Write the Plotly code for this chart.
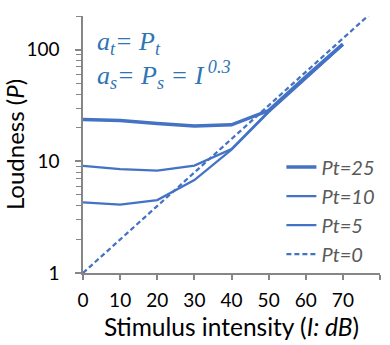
import plotly.graph_objects as go

# Stimulus intensity in dB
intensity = [0, 10, 20, 30, 40, 50, 60, 70]
intensity_pt0 = [0, 10, 20, 30, 40, 50, 60, 70, 80]

# Loudness curves for different internal noise levels Pt
loud_pt25 = [23.7, 23.2, 21.8, 20.7, 21.2, 28.5, 57, 112]
loud_pt10 = [9.1, 8.5, 8.25, 9.15, 12.9, 28, 56, 111]
loud_pt5 = [4.3, 4.1, 4.5, 6.8, 12.7, 27.5, 55, 110]
loud_pt0 = [1.0, 2.0, 3.98, 7.94, 15.8, 31.6, 63.1, 126, 251]

x_ticks = [0, 10, 20, 30, 40, 50, 60, 70, 80]
y_ticks = [1, 10, 100]

LINE = "#4472C4"
AXIS = "#868686"
TEXT_FONT = "Lato"

fig = go.Figure()
fig.add_trace(go.Scatter(x=intensity, y=loud_pt25, mode="lines", name="Pt=25",
                         legendgroup="a", line=dict(color=LINE, width=3.5)))
fig.add_trace(go.Scatter(x=intensity, y=loud_pt10, mode="lines", name="Pt=10",
                         legendgroup="b", line=dict(color=LINE, width=2.25)))
fig.add_trace(go.Scatter(x=intensity, y=loud_pt5, mode="lines", name="Pt=5",
                         legendgroup="c", line=dict(color=LINE, width=2.25)))
fig.add_trace(go.Scatter(x=intensity_pt0, y=loud_pt0, mode="lines", name="Pt=0",
                         legendgroup="d", line=dict(color=LINE, width=2.25, dash="5px,3px")))

math_font = dict(family="Liberation Serif", size=26, color="#2E75B6")
fig.add_annotation(xref="paper", yref="paper", x=0.042, y=0.895, xanchor="left", yanchor="middle",
                   text="<i>a<sub>t</sub>= P<sub>t</sub></i>", showarrow=False, font=math_font)
fig.add_annotation(xref="paper", yref="paper", x=0.042, y=0.77, xanchor="left", yanchor="middle",
                   text="<i>a<sub>s</sub>= P<sub>s</sub> = I<sup> 0.3</sup></i>", showarrow=False, font=math_font)

fig.update_layout(
    width=390, height=345,
    margin=dict(l=83, r=10, t=16, b=72, autoexpand=False),
    paper_bgcolor="white", plot_bgcolor="white",
    font=dict(family=TEXT_FONT, color="#000000"),
    showlegend=True,
    legend=dict(x=0.668, y=0.488, xanchor="left", yanchor="top", bgcolor="rgba(0,0,0,0)",
                font=dict(family=TEXT_FONT, size=20, color="#595959", style="italic"),
                tracegroupgap=0, borderwidth=0),
    xaxis=dict(range=[0, 80], tickvals=x_ticks, ticktext=[str(v) for v in x_ticks], automargin=False,
               showgrid=False, zeroline=False, showline=True, linecolor=AXIS, linewidth=1.5,
               ticks="outside", ticklen=5, tickwidth=1.5, tickcolor=AXIS,
               tickfont=dict(size=19), ticklabelstandoff=4,
               title=dict(text="Stimulus intensity (<i>I: dB</i>)",
                          font=dict(size=24.5), standoff=9)),
    yaxis=dict(type="log", range=[0, 2.301], tickvals=y_ticks, ticktext=[str(v) for v in y_ticks], automargin=False,
               showgrid=False, zeroline=False, showline=True, linecolor=AXIS, linewidth=1.5,
               ticks="outside", ticklen=6, tickwidth=1.5, tickcolor=AXIS,
               minor=dict(ticks="outside", ticklen=5, tickwidth=1, tickcolor=AXIS, dtick="D1", showgrid=False),
               tickfont=dict(size=19), ticklabelstandoff=12,
               title=dict(text="Loudness (<i>P</i>)", font=dict(size=24), standoff=2)),
)

fig.write_html("out.html")
